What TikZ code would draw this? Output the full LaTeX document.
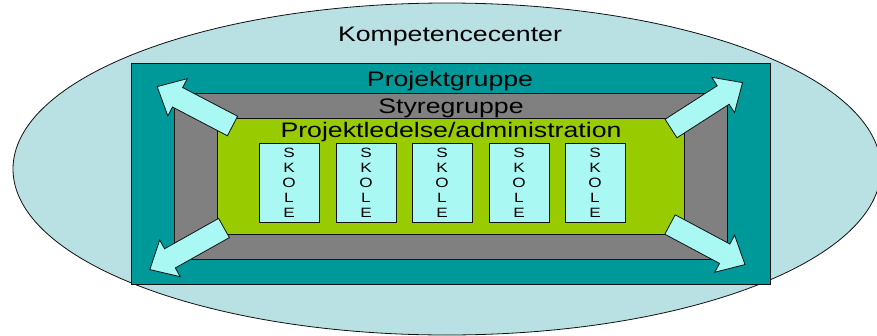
\documentclass[tikz,border=0pt]{standalone}
\usepackage{fontspec}
\usepackage{tikz}
\usetikzlibrary{shapes.geometric}
\newfontfamily\diafont[FakeStretch=1.27]{Liberation Sans}
\definecolor{haze}{HTML}{B9E0E3}
\definecolor{teal}{HTML}{009999}
\definecolor{slate}{HTML}{808080}
\definecolor{lime}{HTML}{99CC00}
\definecolor{ice}{HTML}{AAF8F4}
\definecolor{ink}{HTML}{111111}
\tikzset{
  band/.style={rectangle, draw=ink, line width=0.8pt, inner sep=0pt},
  ttl/.style={font=\diafont\fontsize{21}{24}\selectfont, text=black, anchor=base, inner sep=0pt},
  skole/.style={band, fill=ice, minimum width=60pt, minimum height=79pt, align=center,
                font=\diafont\fontsize{13.5}{15}\selectfont},
  blockarrow/.pic={
    \draw[fill=ice, draw=ink, line width=0.8pt, line join=miter]
      (0,-11) -- (62,-11) -- (62,-21) -- (85,0) -- (62,21) -- (62,11) -- (0,11) -- cycle;
  }
}

\begin{document}
\begin{tikzpicture}[x=1pt, y=-1pt]
  \useasboundingbox (0,0) rectangle (877,335);
  \node[ellipse, draw=ink, fill=haze, line width=0.8pt, minimum width=868pt, minimum height=332pt, inner sep=0pt] (center) at (447,169) {};
  \node[band, fill=teal, minimum width=639pt, minimum height=221pt] (gruppe) at (450.5,173.5) {};
  \node[band, fill=slate, minimum width=553pt, minimum height=166pt] (styre) at (450.5,176) {};
  \node[band, fill=lime, minimum width=467pt, minimum height=116pt] (ledelse) at (450.5,176) {};
  \foreach \a/\b in {north west/north west,north east/north east,south west/south west,south east/south east}
    \draw[ink, line width=0.8pt] (styre.\a) -- (ledelse.\b);
  \node[ttl] (centerlbl) at (450,41) {Kompetencecenter};
  \node[ttl] (gruppelbl) at (450,86) {Projektgruppe};
  \node[ttl] (styrelbl) at (451,113) {Styregruppe};
  \node[ttl] (ledelselbl) at (451,137) {Projektledelse/administration};
  \foreach \i/\x in {1/289,2/366,3/442,4/519,5/595}
    \node[skole] (skole\i) at (\x,182.5) {S\\K\\O\\L\\E};
  \pic[rotate=152.4] (pilnw) at (232.5,126) {blockarrow};
  \pic[rotate=32.7] (pilne) at (671,128.5) {blockarrow};
  \pic[rotate=209.3] (pilsw) at (224,228) {blockarrow};
  \pic[rotate=-28.1] (pilse) at (670,224.5) {blockarrow};
\end{tikzpicture}
\end{document}
